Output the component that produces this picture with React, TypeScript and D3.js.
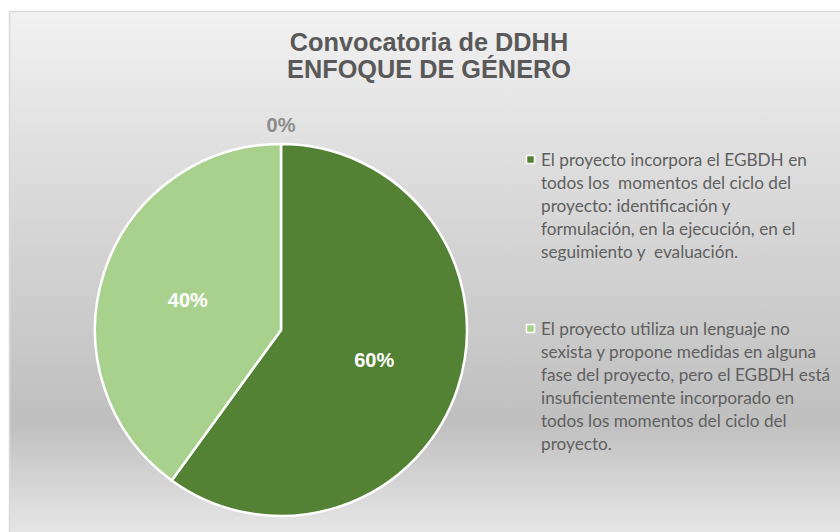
import React from "react";
import * as d3 from "d3";

const title = ["Convocatoria de DDHH", "ENFOQUE DE GÉNERO"];
const categories = [
  "El proyecto incorpora el EGBDH en todos los  momentos del ciclo del proyecto: identificación y formulación, en la ejecución, en el seguimiento y  evaluación.",
  "El proyecto utiliza un lenguaje no sexista y propone medidas en alguna fase del proyecto, pero el EGBDH está insuficientemente incorporado en todos los momentos del ciclo del proyecto.",
  "",
];
const legendLines = [
  [
    "El proyecto incorpora el EGBDH en",
    "todos los  momentos del ciclo del",
    "proyecto: identificación y",
    "formulación, en la ejecución, en el",
    "seguimiento y  evaluación.",
  ],
  [
    "El proyecto utiliza un lenguaje no",
    "sexista y propone medidas en alguna",
    "fase del proyecto, pero el EGBDH está",
    "insuficientemente incorporado en",
    "todos los momentos del ciclo del",
    "proyecto.",
  ],
];
const values = [60, 40, 0];
const labels = ["60%", "40%", "0%"];
const colors = ["#548235", "#A9D18E", "#7F7F7F"];

const W = 840;
const H = 532;

export default function App() {
  const cx = 281;
  const cy = 330;
  const r = 186;
  const pie = d3
    .pie<number>()
    .sort(null)
    .value((d) => d)(values);
  const arc = d3.arc<d3.PieArcDatum<number>>().innerRadius(0).outerRadius(r);
  const labelArc = d3
    .arc<d3.PieArcDatum<number>>()
    .innerRadius(98)
    .outerRadius(98);
  const outerArc = d3
    .arc<d3.PieArcDatum<number>>()
    .innerRadius(205)
    .outerRadius(205);

  return (
    <svg
      width={W}
      height={H}
      style={{ position: "absolute", left: 0, top: 0 }}
    >
      <defs>
        <linearGradient
          id="bg"
          gradientUnits="userSpaceOnUse"
          x1="0"
          y1="11"
          x2="0"
          y2="532"
        >
          <stop offset="0" stopColor="#f2f2f2" />
          <stop offset="0.3" stopColor="#dddddd" />
          <stop offset="0.79" stopColor="#bfbfbf" />
          <stop offset="1" stopColor="#e6e6e6" />
        </linearGradient>
      </defs>
      <rect x={0} y={0} width={W} height={H} fill="#ffffff" />
      <rect
        x={9.5}
        y={11.5}
        width={W}
        height={H}
        fill="url(#bg)"
        stroke="#d9d9d9"
        strokeWidth={1.5}
      />
      <g
        fontFamily="'Liberation Sans', Arial, sans-serif"
        fontWeight="bold"
        fontSize={25.3}
        fill="#595959"
        textAnchor="middle"
      >
        {title.map((t, i) => (
          <text key={i} x={429} y={51 + i * 27}>
            {t}
          </text>
        ))}
      </g>
      <g transform={`translate(${cx},${cy})`}>
        {pie.map((p, i) =>
          p.value > 0 ? (
            <path
              key={i}
              d={arc(p) || ""}
              fill={colors[i]}
              stroke="#ffffff"
              strokeWidth={2.5}
            />
          ) : null
        )}
        {pie.map((p, i) => {
          const inside = p.value > 0;
          const [lx, ly] = inside ? labelArc.centroid(p) : outerArc.centroid(p);
          return (
            <text
              key={"l" + i}
              x={lx}
              y={ly}
              dy="0.35em"
              textAnchor="middle"
              fontFamily="'Liberation Sans', Arial, sans-serif"
              fontWeight="bold"
              fontSize={20}
              fill={inside ? "#ffffff" : "#8c8c8c"}
            >
              {labels[i]}
            </text>
          );
        })}
      </g>
      <g fontFamily="Lato, 'Open Sans', sans-serif" fontSize={17.2} fill="#5f5f5f">
        {legendLines.map((lines, i) => {
          const y0 = i === 0 ? 166 : 335;
          return (
            <g key={i}>
              <title>{categories[i]}</title>
              <rect
                x={526.5}
                y={y0 - 10.5}
                width={8}
                height={8}
                fill={colors[i]}
                stroke="#ffffff"
                strokeWidth={1.5}
              />
              {lines.map((l, j) => (
                <text key={j} x={541} y={y0 + j * 23} style={{ whiteSpace: "pre" }}>
                  {l}
                </text>
              ))}
            </g>
          );
        })}
      </g>
    </svg>
  );
}
